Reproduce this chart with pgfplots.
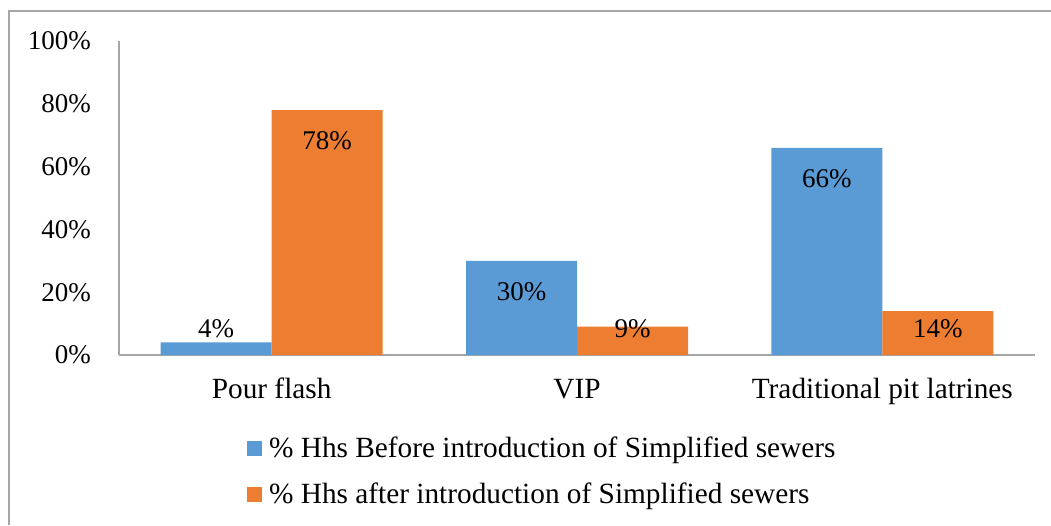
\documentclass[border=0pt]{standalone}
\usepackage{pgfplots}
\pgfplotsset{compat=1.18}
\usepackage{fontspec}
\setmainfont{Liberation Serif}
\definecolor{cblue}{HTML}{5B9BD5}
\definecolor{corange}{HTML}{ED7D31}
\definecolor{axgray}{HTML}{A6A6A6}
\newcommand\bigf{\fontsize{29.3pt}{35pt}\selectfont}
\newcommand\midf{\fontsize{27pt}{32pt}\selectfont}
\begin{document}
\begin{tikzpicture}
\useasboundingbox (0,0) rectangle (1051pt,-525pt);
\draw[axgray, line width=1.5pt] (9pt,-525pt) -- (9pt,-11pt) -- (1051pt,-11pt);
\begin{axis}[
  at={(119pt,-355pt)}, anchor=south west,
  width=916pt, height=314pt, scale only axis,
  ybar=0pt, bar width=111pt,
  xmin=-0.5, xmax=2.5, ymin=0, ymax=100,
  xtick={0,1,2}, xticklabels={Pour flash,VIP,Traditional pit latrines},
  ytick={0,20,40,60,80,100}, yticklabels={0\%,20\%,40\%,60\%,80\%,100\%},
  axis lines=left, axis line style={-, axgray, line width=1.5pt},
  major tick length=0pt,
  tick label style={text=black},
  xticklabel style={font=\bigf, anchor=base, yshift=-43pt, inner sep=0pt},
  yticklabel style={font=\midf, anchor=east, xshift=-28pt, inner sep=0pt},
  nodes near coords, point meta=explicit symbolic,
  visualization depends on={y \as \rawy},
  every node near coord/.append style={font=\midf, text=black, anchor=center, inner sep=0pt, yshift={max(-31,26-3.14*\rawy)*1pt}},
  legend style={at={(axis description cs:0.1397,-0.2625)}, anchor=north west, draw=none, fill=none, inner sep=0pt, font=\bigf, row sep=20pt, nodes={inner sep=0pt, text height=20pt, text depth=6pt}, /tikz/every odd column/.append style={column sep=7pt}},
  legend cell align=left,
  legend image code/.code={\path (0pt,0pt); \fill[#1] (0pt,-5.5pt) rectangle (15pt,9.5pt);},
]
\addplot[fill=cblue, draw=none] coordinates {(0,4)[4\%] (1,30)[30\%] (2,66)[66\%]};
\addplot[fill=corange, draw=none] coordinates {(0,78)[78\%] (1,9)[9\%] (2,14)[14\%]};
\legend{\% Hhs Before introduction of Simplified sewers, \% Hhs after introduction of Simplified sewers}
\end{axis}
\end{tikzpicture}
\end{document}
